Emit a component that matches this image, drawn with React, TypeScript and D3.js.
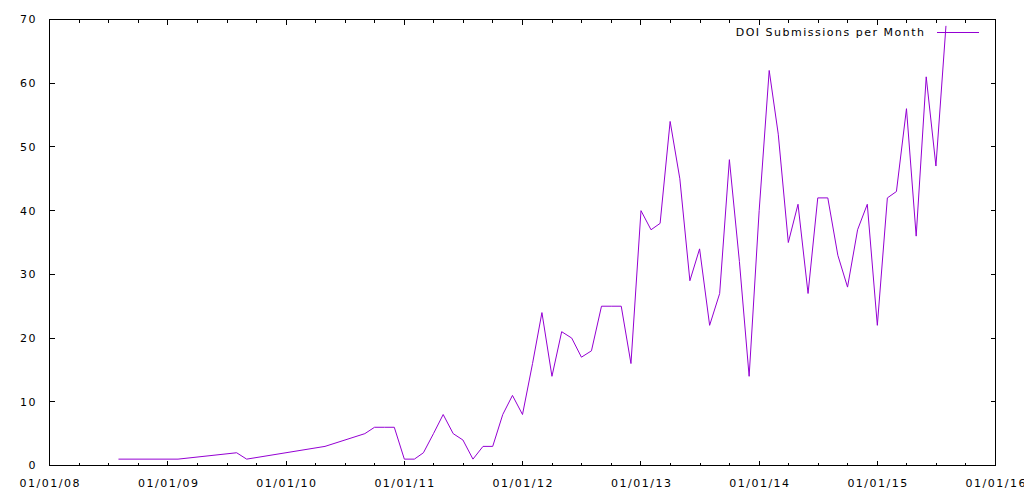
import React from "react";
import * as d3 from "d3";

const months: string[] = [
  "2008-08", "2009-02", "2009-08", "2009-09", "2010-05", "2010-09", "2010-10", "2010-11", "2010-12",
  "2011-01", "2011-02", "2011-03", "2011-04", "2011-05", "2011-06", "2011-07", "2011-08", "2011-09", "2011-10", "2011-11", "2011-12",
  "2012-01", "2012-02", "2012-03", "2012-04", "2012-05", "2012-06", "2012-07", "2012-08", "2012-09", "2012-10", "2012-11", "2012-12",
  "2013-01", "2013-02", "2013-03", "2013-04", "2013-05", "2013-06", "2013-07", "2013-08", "2013-09", "2013-10", "2013-11", "2013-12",
  "2014-01", "2014-02", "2014-03", "2014-04", "2014-05", "2014-06", "2014-07", "2014-08", "2014-09", "2014-10", "2014-11", "2014-12",
  "2015-01", "2015-02", "2015-03", "2015-04", "2015-05", "2015-06", "2015-07", "2015-08",
];
const submissions: number[] = [
  1, 1, 2, 1, 3, 5, 6, 6, 6,
  1, 1, 2, 5, 8, 5, 4, 1, 3, 3, 8, 11,
  8, 16, 24, 14, 21, 20, 17, 18, 25, 25, 25, 16,
  40, 37, 38, 54, 45, 29, 34, 22, 27, 48, 32, 14,
  40, 62, 52, 35, 41, 27, 42, 42, 33, 28, 37, 41,
  22, 42, 43, 56, 36, 61, 47, 69,
];
const yTicks: number[] = [0, 10, 20, 30, 40, 50, 60, 70];
const xTickYears: number[] = [2008, 2009, 2010, 2011, 2012, 2013, 2014, 2015, 2016];
const seriesName = "DOI Submissions per Month";

const parse = d3.timeParse("%Y-%m");
const fmt = d3.timeFormat("%m/%d/%y");

export default function App() {
  const W = 1024, H = 500;
  const left = 49.5, right = 995.5, top = 19.5, bottom = 465.5;
  const x = d3.scaleTime()
    .domain([new Date(2008, 0, 1), new Date(2016, 0, 1)])
    .range([left, right]);
  const y = d3.scaleLinear().domain([0, 70]).range([bottom, top]);
  const data = months.map((m, i) => ({ d: parse(m) as Date, v: submissions[i] }));
  const line = d3.line<{ d: Date; v: number }>().x((p) => x(p.d)).y((p) => y(p.v));
  const majors = xTickYears.map((yr) => new Date(yr, 0, 1));
  const minors: number[] = [];
  for (let i = 0; i < majors.length - 1; i++) {
    const a = x(majors[i]), b = x(majors[i + 1]);
    for (let k = 1; k < 4; k++) minors.push(a + ((b - a) * k) / 4);
  }
  const font = { fontFamily: "'DejaVu Sans', sans-serif", fontSize: 11, letterSpacing: 1.5, fill: "#000" } as any;
  const color = "#9400d3";
  return (
    <svg width={W} height={H} style={{ position: "absolute", left: 0, top: 0, background: "#fff" }}>
      <rect x={0} y={0} width={W} height={H} fill="#fff" />
      <g stroke="#000" strokeWidth={1} shapeRendering="crispEdges">
        {yTicks.map((t) => (
          <g key={"y" + t}>
            <line x1={left} x2={left + 5} y1={Math.round(y(t) - 0.5) + 0.5} y2={Math.round(y(t) - 0.5) + 0.5} />
            <line x1={right - 5} x2={right} y1={Math.round(y(t) - 0.5) + 0.5} y2={Math.round(y(t) - 0.5) + 0.5} />
          </g>
        ))}
        {majors.map((d, i) => {
          const px = Math.round(x(d) - 0.5) + 0.5;
          return (
            <g key={"x" + i}>
              <line x1={px} x2={px} y1={bottom} y2={bottom - 5} />
              <line x1={px} x2={px} y1={top} y2={top + 5} />
            </g>
          );
        })}
        {minors.map((m, i) => {
          const px = Math.round(m - 0.5) + 0.5;
          return (
            <g key={"m" + i}>
              <line x1={px} x2={px} y1={bottom} y2={bottom - 3} />
              <line x1={px} x2={px} y1={top} y2={top + 3} />
            </g>
          );
        })}
        <rect x={left} y={top} width={right - left} height={bottom - top} fill="none" />
      </g>
      {yTicks.map((t) => (
        <text key={"yl" + t} x={37} y={y(t)} dy="0.36em" textAnchor="end" {...font}>{t}</text>
      ))}
      {majors.map((d, i) => (
        <text key={"xl" + i} x={x(d) + 0.75} y={487} textAnchor="middle" {...font}>{fmt(d)}</text>
      ))}
      <path d={line(data) || ""} fill="none" stroke={color} strokeWidth={1} />
      <text x={925.5} y={32} dy="0.36em" textAnchor="end" {...font}>{seriesName}</text>
      <line x1={937} x2={979} y1={32.5} y2={32.5} stroke={color} strokeWidth={1} shapeRendering="crispEdges" />
    </svg>
  );
}
